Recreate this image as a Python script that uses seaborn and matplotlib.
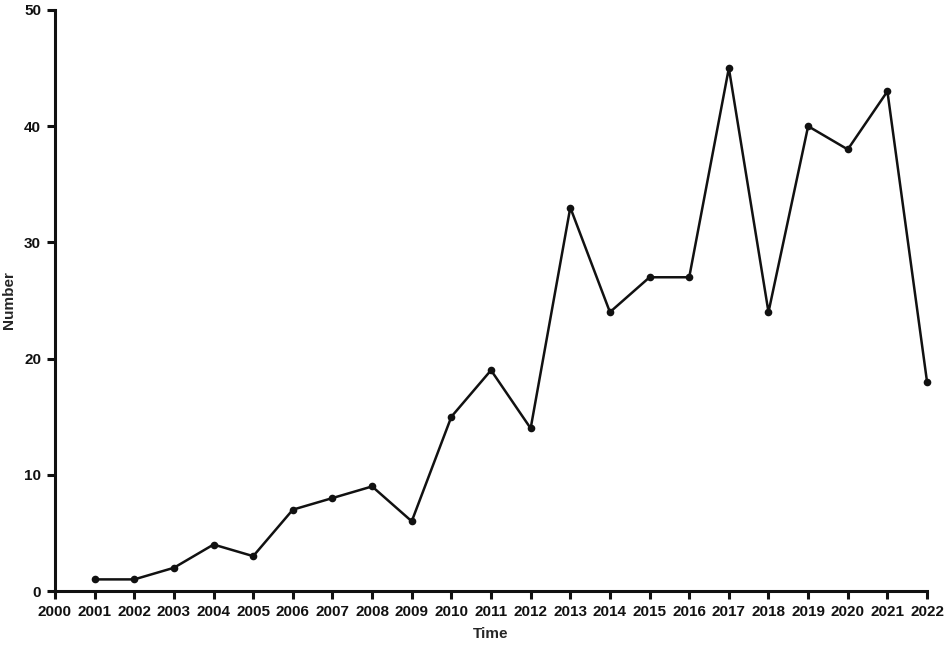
import matplotlib
matplotlib.use("Agg")
import matplotlib.pyplot as plt
import seaborn as sns
import pandas as pd

# datos
years = [2001, 2002, 2003, 2004, 2005, 2006, 2007, 2008, 2009, 2010, 2011,
         2012, 2013, 2014, 2015, 2016, 2017, 2018, 2019, 2020, 2021, 2022]
numbers = [1, 1, 2, 4, 3, 7, 8, 9, 6, 15, 19,
           14, 33, 24, 27, 27, 45, 24, 40, 38, 43, 18]
xticks = list(range(2000, 2023))
yticks = [0, 10, 20, 30, 40, 50]

df = pd.DataFrame({'Time': years, 'Number': numbers})

sns.set_style('ticks')
plt.rcParams['font.family'] = ['Liberation Sans', 'DejaVu Sans']

fig = plt.figure(figsize=(9.45, 6.45), dpi=100)
ax = fig.add_axes([0.0582, 0.0837, 0.9228, 0.9008])

sns.lineplot(data=df, x='Time', y='Number', ax=ax, color='#111111',
             linewidth=1.8, marker='o', markersize=5.5, markeredgewidth=0)

ax.set_xlim(2000, 2022)
ax.set_ylim(0, 50)
ax.set_xticks(xticks)
ax.set_yticks(yticks)
ax.set_xticklabels([str(t) for t in xticks], fontsize=11, fontweight='bold')
ax.set_yticklabels([str(t) for t in yticks], fontsize=11, fontweight='bold')
ax.set_xlabel('Time', fontsize=11, fontweight='bold', labelpad=6)
ax.set_ylabel('Number', fontsize=11, fontweight='bold', labelpad=6)

for side in ['top', 'right']:
    ax.spines[side].set_visible(False)
for side in ['left', 'bottom']:
    ax.spines[side].set_linewidth(2.2)
    ax.spines[side].set_color('#111111')
ax.tick_params(width=2.2, length=6, color='#111111', labelcolor='#111111', pad=4)
for sp in ax.spines.values():
    sp.set_clip_on(False)
for ln in ax.lines:
    ln.set_clip_on(False)

fig.savefig('out.png', dpi=100)
